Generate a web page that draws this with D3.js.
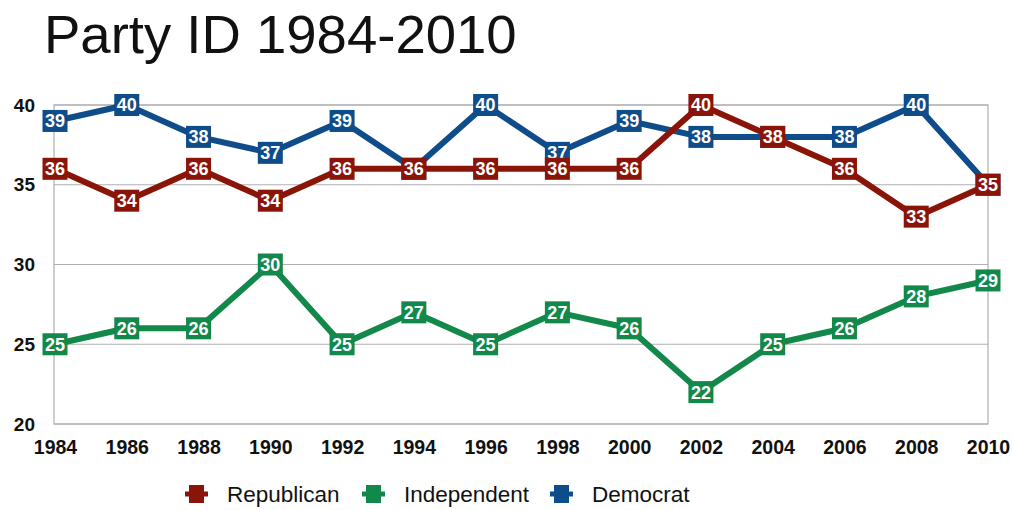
<!DOCTYPE html>
<html><head><meta charset="utf-8">
<script src="https://cdn.jsdelivr.net/npm/d3@7"></script>
<style>body{margin:0;background:#fff}svg{display:block}</style>
</head><body><svg id="c" width="1013" height="510"></svg>
<script>
const years = [1984,1986,1988,1990,1992,1994,1996,1998,2000,2002,2004,2006,2008,2010];
const republican = [36,34,36,34,36,36,36,36,36,40,38,36,33,35];
const independent = [25,26,26,30,25,27,25,27,26,22,25,26,28,29];
const democrat = [39,40,38,37,39,36,40,37,39,38,38,38,40,35];
const yTicks = [20,25,30,35,40];
const seriesNames = ["Republican","Independent","Democrat"];
const seriesColors = ["#8b1408","#12884a","#0f4c8a"];
const seriesValues = [republican, independent, democrat];

const svg = d3.select("#c");
const font = "'Liberation Sans', Arial, Helvetica, sans-serif";
const L = 54, R = 988, T = 105, B = 424;
const x = d3.scalePoint().domain(years).range([L + 1, R]);
const y = d3.scaleLinear().domain([20, 40]).range([B, T]);

svg.append("text").attr("x", 44).attr("y", 53).attr("font-family", font)
  .attr("font-size", 54.5).attr("fill", "#111").text("Party ID 1984-2010");

// grid
svg.append("g").selectAll("line").data(yTicks).join("line")
  .attr("x1", L).attr("x2", R).attr("y1", d => y(d)).attr("y2", d => y(d))
  .attr("stroke", "#b0b0b0").attr("stroke-width", 1.2);
svg.append("rect").attr("x", L).attr("y", T).attr("width", R - L).attr("height", B - T)
  .attr("fill", "none").attr("stroke", "#b0b0b0").attr("stroke-width", 1.2);

// axes
const yAxis = svg.append("g").attr("transform", `translate(${L - 19},0)`)
  .call(d3.axisLeft(y).tickValues(yTicks).tickSize(0).tickPadding(0));
yAxis.select(".domain").remove();
yAxis.selectAll("text").attr("font-family", font).attr("font-size", 19)
  .attr("font-weight", "bold").attr("fill", "#111");

const xAxis = svg.append("g").attr("transform", `translate(0,${B + 16})`)
  .call(d3.axisBottom(x).tickSize(0).tickPadding(0).tickFormat(d3.format("d")));
xAxis.select(".domain").remove();
xAxis.selectAll("text").attr("font-family", font).attr("font-size", 19.5)
  .attr("font-weight", "bold").attr("fill", "#111");

const line = d3.line().x((d, i) => x(years[i])).y(d => y(d));
// draw order: Democrat, Independent, Republican (republican on top)
[2, 1, 0].forEach(si => {
  const vals = seriesValues[si], col = seriesColors[si];
  const g = svg.append("g");
  g.append("path").datum(vals).attr("d", line).attr("fill", "none")
    .attr("stroke", col).attr("stroke-width", 6).attr("stroke-linejoin", "round");
  const m = g.selectAll("g.m").data(vals).join("g")
    .attr("transform", (d, i) => `translate(${x(years[i])},${y(d)})`);
  m.append("rect").attr("x", -12.5).attr("y", -11).attr("width", 25).attr("height", 22)
    .attr("fill", col);
  m.append("text").attr("text-anchor", "middle").attr("dy", "0.36em")
    .attr("font-family", font).attr("font-size", 18).attr("font-weight", "bold")
    .attr("fill", "#fff").text(d => d);
});

// legend
const legX = [185, 362, 550];
const lg = svg.append("g").attr("transform", "translate(0,494)");
seriesNames.forEach((n, i) => {
  const g = lg.append("g").attr("transform", `translate(${legX[i]},0)`);
  g.append("line").attr("x1", 0).attr("x2", 23).attr("y1", 0).attr("y2", 0)
    .attr("stroke", seriesColors[i]).attr("stroke-width", 5);
  g.append("rect").attr("x", 4).attr("y", -9).attr("width", 15).attr("height", 18)
    .attr("fill", seriesColors[i]);
  g.append("text").attr("x", 42).attr("dy", "0.36em").attr("font-family", font)
    .attr("font-size", 22.5).attr("fill", "#111").text(n);
});
</script></body></html>
